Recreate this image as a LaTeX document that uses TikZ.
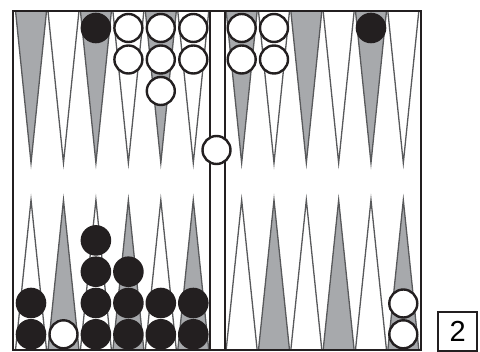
\documentclass[tikz,border=0pt]{standalone}
\usepackage{fontspec}
\setmainfont{Liberation Sans}
\definecolor{ptgray}{HTML}{A7A9AC}
\definecolor{ptline}{HTML}{58595B}
\definecolor{chkblack}{HTML}{231F20}
\begin{document}
\begin{tikzpicture}[x=1pt,y=-1pt,
  pointbox/.style={draw=ptline,line width=1.3pt,line join=miter},
  whitechk/.style={circle,draw=chkblack,fill=white,line width=2.4pt,minimum size=28pt,inner sep=0pt},
  blackchk/.style={circle,fill=chkblack,minimum size=30.6pt,inner sep=0pt},
  frameline/.style={draw=chkblack,line width=2pt},
  cubebox/.style={draw=chkblack,line width=1.8pt,minimum size=39pt,inner sep=0pt,font=\fontsize{29}{29}\selectfont}
]
\useasboundingbox (0,0) rectangle (480,352);
% points
\foreach \i in {0,...,5}{
  % left half
  \pgfmathsetmacro{\cx}{14.8+32.45*(\i+0.5)}
  \pgfmathsetmacro{\hw}{15.4}
  \pgfmathtruncatemacro{\odd}{mod(\i,2)}
  \ifnum\odd=0
    \fill[ptgray] (\cx-\hw,12) -- (\cx,163) -- (\cx+\hw,12) -- cycle;
    \fill[white] (\cx-\hw,349) -- (\cx,200) -- (\cx+\hw,349) -- cycle;
  \else
    \fill[white] (\cx-\hw,12) -- (\cx,163) -- (\cx+\hw,12) -- cycle;
    \fill[ptgray] (\cx-\hw,349) -- (\cx,200) -- (\cx+\hw,349) -- cycle;
  \fi
  \draw[pointbox] (\cx-\hw,12) -- (\cx,163) -- (\cx+\hw,12);
  \draw[pointbox] (\cx-\hw,349) -- (\cx,200) -- (\cx+\hw,349);
  % right half
  \pgfmathsetmacro{\rx}{225.5+32.33*(\i+0.5)}
  \ifnum\odd=0
    \fill[ptgray] (\rx-\hw,12) -- (\rx,163) -- (\rx+\hw,12) -- cycle;
    \fill[white] (\rx-\hw,349) -- (\rx,200) -- (\rx+\hw,349) -- cycle;
  \else
    \fill[white] (\rx-\hw,12) -- (\rx,163) -- (\rx+\hw,12) -- cycle;
    \fill[ptgray] (\rx-\hw,349) -- (\rx,200) -- (\rx+\hw,349) -- cycle;
  \fi
  \draw[pointbox] (\rx-\hw,12) -- (\rx,163) -- (\rx+\hw,12);
  \draw[pointbox] (\rx-\hw,349) -- (\rx,200) -- (\rx+\hw,349);
}
% frame and bar
\draw[frameline] (13,11) rectangle (421,350);
\draw[frameline] (210,11) -- (210,350);
\draw[frameline] (225,11) -- (225,350);
% top-left checkers
\node[blackchk] (tl3a) at (95.9,28) {};
\node[whitechk] (tl4a) at (128.4,28) {};
\node[whitechk] (tl4b) at (128.4,59.5) {};
\node[whitechk] (tl5a) at (160.8,28) {};
\node[whitechk] (tl5b) at (160.8,59.5) {};
\node[whitechk] (tl5c) at (160.8,91) {};
\node[whitechk] (tl6a) at (193.3,28) {};
\node[whitechk] (tl6b) at (193.3,59.5) {};
% top-right checkers
\node[whitechk] (tr1a) at (241.7,28) {};
\node[whitechk] (tr1b) at (241.7,59.5) {};
\node[whitechk] (tr2a) at (274.0,28) {};
\node[whitechk] (tr2b) at (274.0,59.5) {};
\node[blackchk] (tr5a) at (371.0,28) {};
% bar
\node[whitechk] (bar) at (216.5,150) {};
% bottom-left checkers
\node[blackchk] (bl1a) at (31.0,334.3) {};
\node[blackchk] (bl1b) at (31.0,303) {};
\node[whitechk] (bl2a) at (63.5,334.3) {};
\node[blackchk] (bl3a) at (95.9,334.3) {};
\node[blackchk] (bl3b) at (95.9,303) {};
\node[blackchk] (bl3c) at (95.9,271.7) {};
\node[blackchk] (bl3d) at (95.9,240.4) {};
\node[blackchk] (bl4a) at (128.4,334.3) {};
\node[blackchk] (bl4b) at (128.4,303) {};
\node[blackchk] (bl4c) at (128.4,271.7) {};
\node[blackchk] (bl5a) at (160.8,334.3) {};
\node[blackchk] (bl5b) at (160.8,303) {};
\node[blackchk] (bl6a) at (193.3,334.3) {};
\node[blackchk] (bl6b) at (193.3,303) {};
% bottom-right checkers
\node[whitechk] (br6a) at (403.3,334.3) {};
\node[whitechk] (br6b) at (403.3,303.5) {};
% cube
\node[cubebox] (cube) at (457.8,331.2) {2};
\end{tikzpicture}
\end{document}
